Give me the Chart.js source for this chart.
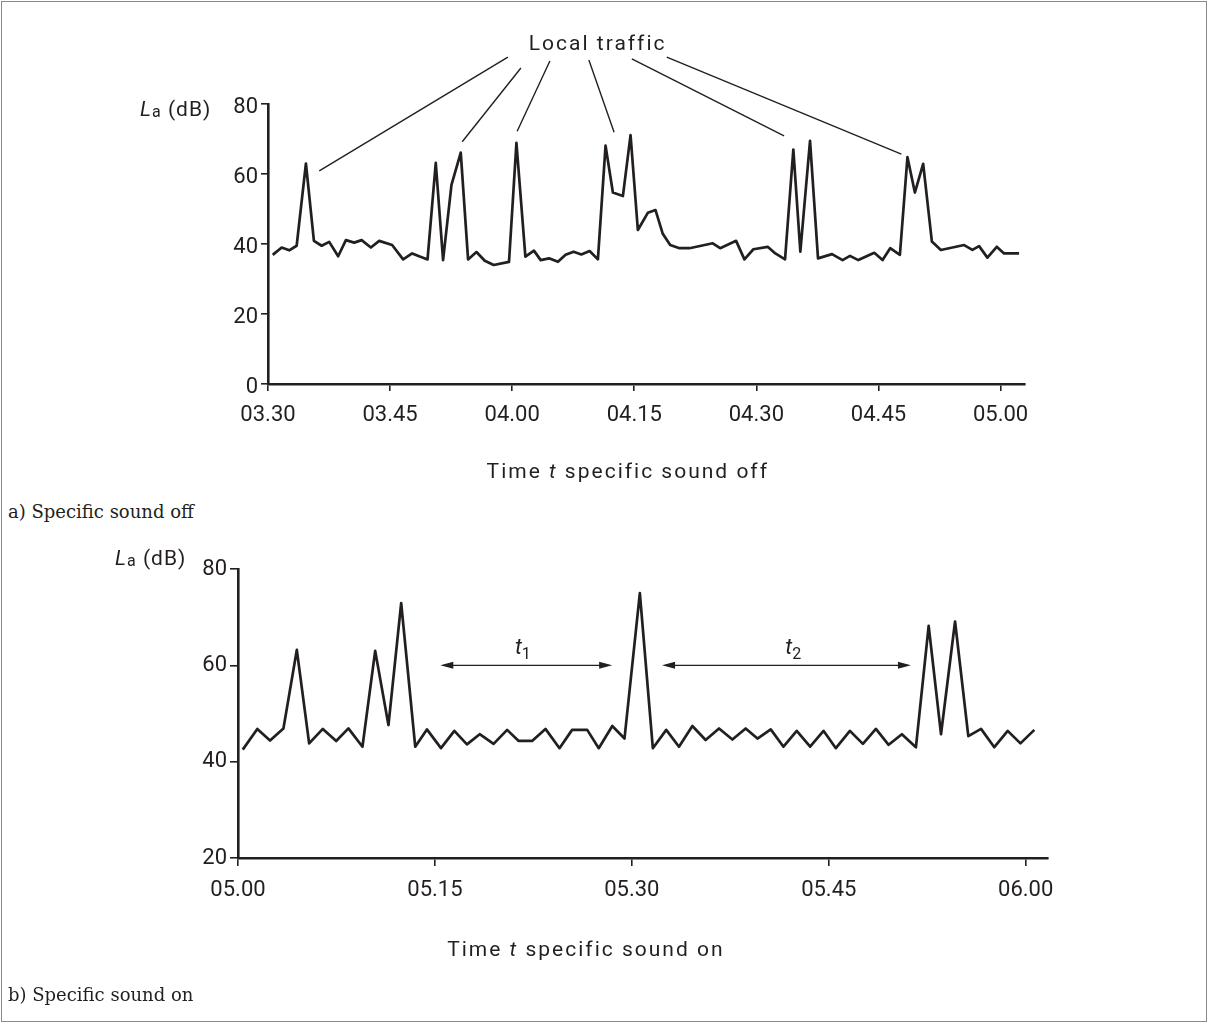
<!DOCTYPE html>
<html><head><meta charset="utf-8">
<script src="https://cdn.jsdelivr.net/npm/chart.js@4.4.1/dist/chart.umd.min.js"></script>
<style>
html,body{margin:0;padding:0;background:#fff;}
#page{position:relative;width:1208px;height:1023px;overflow:hidden;background:#fff;}
#frame{position:absolute;left:1px;top:1px;width:1204px;height:1019px;border:1px solid #8a8a8a;}
canvas{position:absolute;left:0;}
#c1{top:0;}
#c2{top:520px;}
.cap{position:absolute;left:8px;font-family:"DejaVu Serif",serif;font-size:18px;color:#231f20;line-height:24px;}
</style></head><body>
<div id="page">
<div id="frame"></div>
<canvas id="c1" width="1208" height="500"></canvas>
<div class="cap" style="top:500px">a) Specific sound off</div>
<canvas id="c2" width="1208" height="480"></canvas>
<div class="cap" style="top:983px">b) Specific sound on</div>
</div>
<script>
// ---- data: a) specific sound off (minutes after 03.30) ----
const topMinutes = [0.58,1.68,2.61,3.52,4.66,5.64,6.59,7.52,8.62,9.57,10.59,11.50,12.64,13.66,15.25,16.60,17.71,18.65,19.60,20.61,21.51,22.54,23.68,24.58,25.61,26.63,27.73,29.61,30.52,31.62,32.67,33.50,34.52,35.62,36.56,37.55,38.49,39.51,40.53,41.47,42.37,43.60,44.54,45.44,46.66,47.61,48.50,49.41,50.55,51.78,54.64,55.55,57.51,58.53,59.63,61.39,62.33,63.52,64.54,65.40,66.59,67.57,69.29,70.59,71.50,72.52,74.48,75.50,76.44,77.63,78.56,79.47,80.49,81.56,82.66,85.52,86.54,87.36,88.38,89.53,90.43,92.27];
const topLevels = [36.9,39.0,38.2,39.5,63.0,40.9,39.5,40.6,36.5,41.1,40.4,41.1,39.0,40.9,39.7,35.6,37.3,36.4,35.6,63.2,35.4,56.9,66.1,35.6,37.7,35.2,34.0,34.9,68.9,36.4,38.1,35.4,35.9,34.9,36.9,37.8,37.0,38.0,35.6,68.1,54.7,53.7,71.1,44.0,48.9,49.7,42.9,39.7,38.8,38.8,40.2,38.8,40.9,35.6,38.5,39.2,37.3,35.6,67.0,37.8,69.5,35.9,37.1,35.4,36.6,35.4,37.5,35.4,38.8,36.9,64.8,54.7,62.9,40.7,38.3,39.7,38.3,39.4,36.1,39.2,37.3,37.3];
const topTickValues = [0,15,30,45,60,75,90];
const topTickLabels = ['03.30','03.45','04.00','04.15','04.30','04.45','05.00'];
const topYTicks = [0,20,40,60,80];

// ---- data: b) specific sound on (minutes after 05.00) ----
const botMinutes = [0.36,1.47,2.44,3.46,4.48,5.42,6.46,7.48,8.41,9.48,10.45,11.46,12.43,13.50,14.39,15.46,16.48,17.44,18.41,19.47,20.50,21.38,22.40,23.42,24.49,25.45,26.60,27.48,28.51,29.44,30.61,31.60,32.62,33.59,34.61,35.62,36.64,37.66,38.67,39.57,40.58,41.55,42.56,43.58,44.60,45.54,46.61,47.60,48.59,49.56,50.57,51.64,52.61,53.55,54.62,55.63,56.60,57.61,58.63,59.60,60.66];
const botLevels = [42.5,46.8,44.4,46.9,63.2,43.8,46.8,44.3,46.9,43.1,63.0,47.6,72.9,43.1,46.7,42.8,46.4,43.6,45.7,43.7,46.6,44.3,44.3,46.8,42.8,46.6,46.6,42.8,47.4,44.8,75.0,42.8,46.6,43.1,47.4,44.5,46.9,44.6,46.9,44.8,46.7,43.1,46.4,43.1,46.4,42.8,46.4,43.7,46.8,43.5,45.7,43.0,68.2,45.7,69.1,45.3,46.8,43.0,46.4,43.8,46.6];
const botTickValues = [0,15,30,45,60];
const botTickLabels = ['05.00','05.15','05.30','05.45','06.00'];
const botYTicks = [20,40,60,80];

// annotations (data units)
const trafficLabel = 'Local traffic';
const trafficLines = [
  [[29.47,93.4],[6.30,60.9]],
  [[31.07,90.3],[23.86,69.2]],
  [[34.63,92.3],[30.61,72.2]],
  [[39.42,92.6],[42.52,71.9]],
  [[44.70,92.9],[63.40,70.9]],
  [[48.99,93.4],[77.81,65.7]]
];
const intervals = [{from:15.41,to:28.5,label:'1',at:21.7},{from:32.3,to:51.26,label:'2',at:42.3}];

const INK = '#231f20';
const TXT = 'Roboto, "DejaVu Sans", sans-serif';

function drawRuns(ctx, runs, x, y, align) {
  const widths = runs.map(r => { ctx.font = r.font; ctx.letterSpacing = r.sp || '0px'; return ctx.measureText(r.text).width; });
  const total = widths.reduce((a,b)=>a+b,0);
  let cx = align === 'center' ? x - total/2 : x;
  ctx.textAlign = 'left'; ctx.textBaseline = 'alphabetic'; ctx.fillStyle = INK;
  runs.forEach((r,i) => { ctx.font = r.font; ctx.letterSpacing = r.sp || '0px'; ctx.fillText(r.text, cx, y + (r.dy||0)); cx += widths[i]; });
  ctx.letterSpacing = '0px';
}

function makeScales(xMax, tickVals, tickLabels, yMin, yTicks, xHeight, yWidth, tl, yLabelOffset) {
  return {
    x: {
      type:'linear', min:0, max:xMax,
      afterBuildTicks: s => { s.ticks = tickVals.map(v=>({value:v})); },
      afterFit: s => { s.height = xHeight; },
      ticks: { callback: v => tickLabels[tickVals.indexOf(v)], font:{family:TXT, size:22}, color:INK, padding:11, maxRotation:0, autoSkip:false },
      grid: { drawOnChartArea:false, drawTicks:true, tickLength:tl, color:INK, lineWidth:1.6 },
      border: { display:true, color:INK, width:2.6 }
    },
    y: {
      type:'linear', min:yMin, max:80,
      afterBuildTicks: s => { s.ticks = yTicks.map(v=>({value:v})); },
      afterFit: s => { s.width = yWidth; },
      ticks: { font:{family:TXT, size:22}, color:INK, padding:3, labelOffset:yLabelOffset },
      grid: { drawOnChartArea:false, drawTicks:true, tickLength:tl, color:INK, lineWidth:1.6 },
      border: { display:true, color:INK, width:2.6 }
    }
  };
}

function dataset(xs, ys) {
  return { data: xs.map((m,i)=>({x:m, y:ys[i]})), borderColor:INK, borderWidth:2.7, pointRadius:0, tension:0, borderJoinStyle:'round', fill:false };
}

const common = { responsive:false, animation:false, plugins:{legend:{display:false}, tooltip:{enabled:false}} };

// ---- chart a ----
new Chart(document.getElementById('c1'), {
  type:'line',
  data:{ datasets:[dataset(topMinutes, topLevels)] },
  options: Object.assign({}, common, {
    layout:{ padding:{ left:0, right:183, top:104, bottom:0 } },
    scales: makeScales(93, topTickValues, topTickLabels, 0, topYTicks, 116, 268, 7, 3)
  }),
  plugins:[{ id:'annA', afterDraw(chart){
    const ctx = chart.ctx, xs = chart.scales.x, ys = chart.scales.y;
    ctx.save();
    ctx.strokeStyle = INK; ctx.lineWidth = 1.4;
    trafficLines.forEach(l => {
      ctx.beginPath();
      ctx.moveTo(xs.getPixelForValue(l[0][0]), ys.getPixelForValue(l[0][1]));
      ctx.lineTo(xs.getPixelForValue(l[1][0]), ys.getPixelForValue(l[1][1]));
      ctx.stroke();
    });
    drawRuns(ctx, [{text:trafficLabel, font:'21px '+TXT, sp:'2px'}], xs.getPixelForValue(40.5), 50, 'center');
    drawRuns(ctx, [
      {text:'L', font:'italic 21px '+TXT, sp:'1px'},
      {text:'a', font:'16px '+TXT, sp:'1px', dy:1},
      {text:' (dB)', font:'21px '+TXT, sp:'1px'}
    ], chart.chartArea.left - 128, ys.getPixelForValue(80) + 12, 'left');
    drawRuns(ctx, [
      {text:'Time ', font:'21px '+TXT, sp:'2px'},
      {text:'t', font:'italic 21px '+TXT, sp:'2px'},
      {text:' specific sound off', font:'21px '+TXT, sp:'2px'}
    ], xs.getPixelForValue(44.2), 478, 'center');
    ctx.restore();
  }}]
});

// ---- chart b ----
new Chart(document.getElementById('c2'), {
  type:'line',
  data:{ datasets:[dataset(botMinutes, botLevels)] },
  options: Object.assign({}, common, {
    layout:{ padding:{ left:0, right:160, top:49, bottom:0 } },
    scales: makeScales(61.7, botTickValues, botTickLabels, 20, botYTicks, 142, 238, 8, 0)
  }),
  plugins:[{ id:'annB', afterDraw(chart){
    const ctx = chart.ctx, xs = chart.scales.x, ys = chart.scales.y;
    ctx.save();
    ctx.strokeStyle = INK; ctx.fillStyle = INK; ctx.lineWidth = 1.4;
    const head = (x, y, dir) => {
      ctx.beginPath(); ctx.moveTo(x, y); ctx.lineTo(x - dir*13, y - 3.5); ctx.lineTo(x - dir*13, y + 3.5); ctx.closePath(); ctx.fill();
    };
    intervals.forEach(iv => {
      const x1 = xs.getPixelForValue(iv.from), x2 = xs.getPixelForValue(iv.to), y = ys.getPixelForValue(60);
      ctx.beginPath(); ctx.moveTo(x1+4, y); ctx.lineTo(x2-4, y); ctx.stroke();
      head(x1, y, -1); head(x2, y, 1);
      drawRuns(ctx, [
        {text:'t', font:'italic 22px '+TXT},
        {text:iv.label, font:'16px '+TXT, dy:5}
      ], xs.getPixelForValue(iv.at), y - 11, 'center');
    });
    drawRuns(ctx, [
      {text:'L', font:'italic 21px '+TXT, sp:'1px'},
      {text:'a', font:'16px '+TXT, sp:'1px', dy:1},
      {text:' (dB)', font:'21px '+TXT, sp:'1px'}
    ], chart.chartArea.left - 123, 45, 'left');
    drawRuns(ctx, [
      {text:'Time ', font:'21px '+TXT, sp:'2px'},
      {text:'t', font:'italic 21px '+TXT, sp:'2px'},
      {text:' specific sound on', font:'21px '+TXT, sp:'2px'}
    ], xs.getPixelForValue(26.5), 436, 'center');
    ctx.restore();
  }}]
});
</script>
</body></html>
